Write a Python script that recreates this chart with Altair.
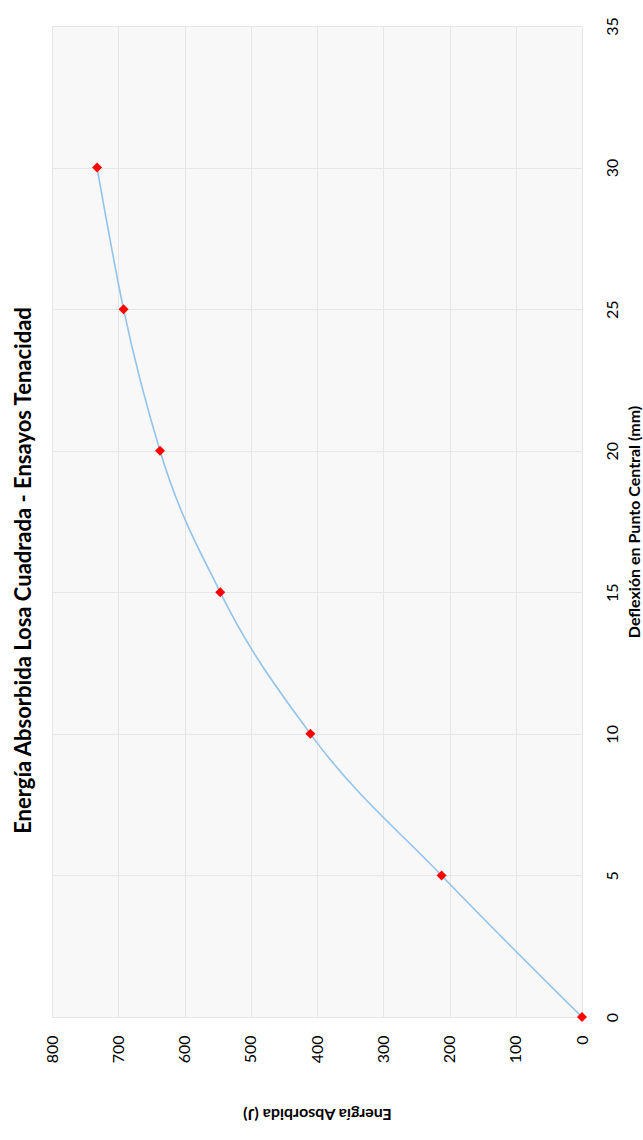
import altair as alt
import pandas as pd

# Central deflection (mm) and absorbed energy (J) for the square slab toughness test
deflexion_mm = [0, 5, 10, 15, 20, 25, 30]
energia_j = [0, 212, 410, 546, 637, 692, 732]

energy_ticks = [0, 100, 200, 300, 400, 500, 600, 700, 800]
deflection_ticks = [0, 5, 10, 15, 20, 25, 30, 35]

df = pd.DataFrame({"Deflexion": deflexion_mm, "Energia": energia_j})

FONT = "Lato"

x_enc = alt.X(
    "Energia:Q",
    scale=alt.Scale(domain=[0, 800], reverse=True, nice=False),
    axis=alt.Axis(
        title="Energía Absorbida (J)",
        orient="bottom",
        values=energy_ticks,
        labelAngle=270,
        labelAlign="right",
        labelBaseline="middle",
        labelPadding=18,
        titleAngle=180,
        titleBaseline="middle",
        titleY=96,
        grid=True,
        domain=False,
        ticks=False,
    ),
)

y_enc = alt.Y(
    "Deflexion:Q",
    scale=alt.Scale(domain=[0, 35], nice=False),
    axis=alt.Axis(
        title="Deflexión en Punto Central (mm)",
        orient="right",
        values=deflection_ticks,
        labelAngle=270,
        labelAlign="center",
        labelBaseline="top",
        labelPadding=22,
        titleAngle=270,
        titleBaseline="middle",
        titleX=52,
        grid=True,
        domain=False,
        ticks=False,
    ),
)

base = alt.Chart(df).encode(x=x_enc, y=y_enc)

line = base.mark_line(
    color="#92c3ea", strokeWidth=1.6, interpolate="monotone"
).encode(order="Deflexion:Q")

points = base.mark_point(
    shape="diamond", filled=True, color="#ff0000", size=100, opacity=1
)

chart = (
    alt.layer(line, points)
    .properties(
        width=530,
        height=991,
        title=alt.TitleParams(
            "Energía Absorbida Losa Cuadrada - Ensayos Tenacidad",
            orient="left",
            anchor="middle",
            font=FONT,
            fontSize=22,
            fontWeight="bold",
            color="#000000",
            offset=8,
            dx=-49,
        ),
        autosize=alt.AutoSizeParams(type="none"),
        padding={"left": 52, "top": 26, "right": 61, "bottom": 123},
    )
    .configure(background="#ffffff")
    .configure_view(fill="#f8f8f8", stroke=None)
    .configure_axis(
        labelFont=FONT,
        labelFontSize=16,
        labelColor="#000000",
        titleFont=FONT,
        titleFontSize=16,
        titleFontWeight="bold",
        titleColor="#000000",
        gridColor="#e6e6e6",
        gridWidth=1,
    )
)

chart.save("out.html", embed_options={"renderer": "svg", "actions": False})
